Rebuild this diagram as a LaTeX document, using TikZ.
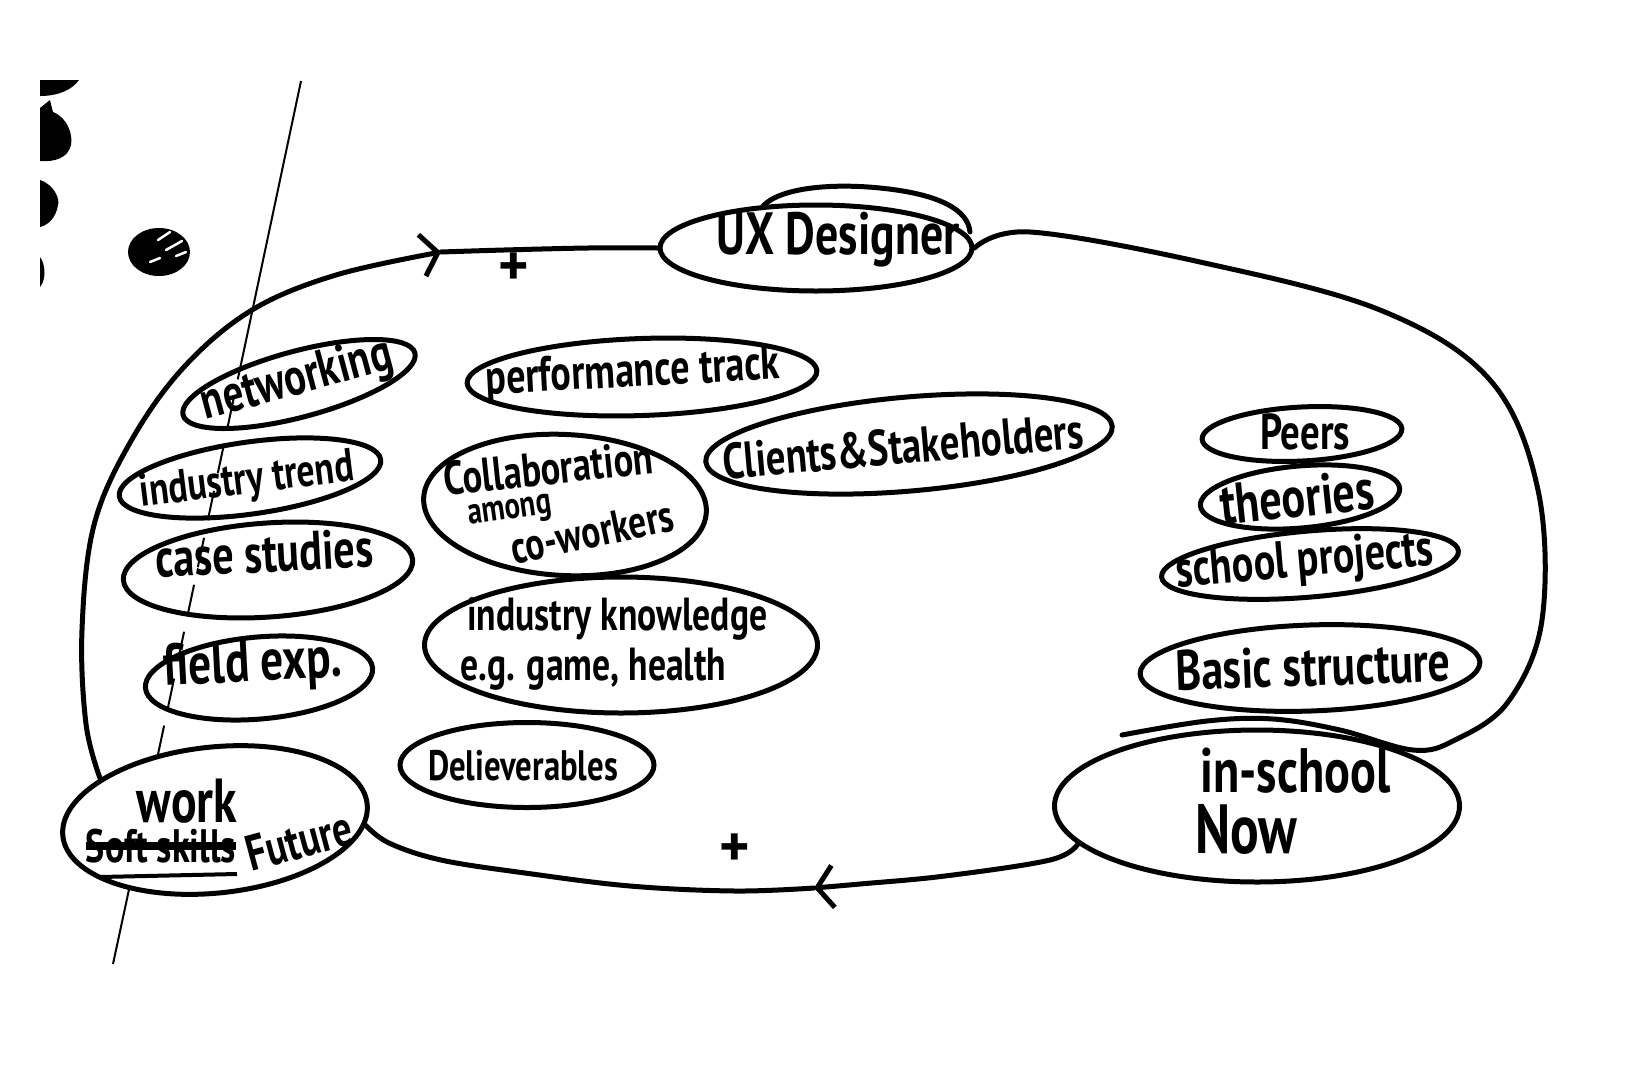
\documentclass[tikz,border=0pt]{standalone}
\usepackage{fontspec}
\setmainfont{PT Sans}
\usepackage{graphicx}
\usetikzlibrary{shapes.geometric,arrows.meta}
\newcommand\tw[2]{\resizebox{#1pt}{!}{\scalebox{1}[1.3]{#2}}}
\begin{document}
\begin{tikzpicture}[x=1pt,y=-1pt,
  bub/.style={ellipse, draw, line width=5pt, inner sep=0pt},
  txt/.style={inner sep=0pt, font=\fontsize{20}{24}\selectfont\bfseries},
  ring/.style={line width=5pt, line cap=round, line join=round},
  chev/.style={-{Straight Barb[length=16pt,width=42pt]}},
  thin/.style={line width=2pt}
]
\useasboundingbox (0,0) rectangle (1646,1074);

% scanned blobs at the left edge
\fill (40,80) -- (79,80) .. controls (72,90) and (58,96) .. (40,96) -- cycle;
\fill (40,108) -- (50,100) -- (53,112) .. controls (68,118) and (73,135) .. (71,145) .. controls (68,158) and (55,162) .. (40,161) -- cycle;
\fill (40,180) .. controls (55,185) and (60,200) .. (58,205) .. controls (56,218) and (48,225) .. (40,227) -- cycle;
\fill (40,257) .. controls (46,265) and (46,280) .. (40,287) -- cycle;
\fill (159,252) ellipse [x radius=31pt, y radius=24pt];
\draw[white, line width=2.5pt, line cap=round] (158,240) -- (170,232) (166,250) -- (182,241) (150,262) -- (160,258) (176,256) -- (186,252);

% thin vertical line
\draw[thin] (301,81) -- (244,350);
\draw[thin, dash pattern=on 30pt off 18pt] (244,350) -- (160,745);
\draw[thin] (160,745) -- (113,964);

% nodes
\node[bub, minimum width=312pt, minimum height=86pt] (ux) at (816,248) {};
\node[txt] (uxT) at (838,240) {\tw{243}{UX Designer}};
\draw[ring] (763,206) .. controls (780,188) and (830,183) .. (880,188) .. controls (940,194) and (968,210) .. (970,232);

\node[bub, minimum width=240pt, minimum height=66pt, rotate=15] (net) at (299,384) {};
\node[txt, rotate=15] (netT) at (297,381) {\tw{196}{networking}};

\node[bub, minimum width=264pt, minimum height=72pt, rotate=8] (trend) at (250,478) {};
\node[txt, rotate=7] (trendT) at (247,482) {\tw{215}{industry trend}};

\node[bub, minimum width=290pt, minimum height=94pt, rotate=4] (case) at (268,570) {};
\node[txt, rotate=3] (caseT) at (264,553) {\tw{218}{case studies}};

\node[bub, minimum width=228pt, minimum height=82pt, rotate=5] (field) at (259,678) {};
\node[txt, rotate=3] (fieldT) at (253,666) {\tw{178}{field exp.}};

\node[bub, minimum width=350pt, minimum height=77pt, rotate=2] (perf) at (642,377) {};
\node[txt, rotate=3] (perfT) at (633,374) {\tw{294}{performance track}};

\node[bub, minimum width=408pt, minimum height=94pt, rotate=5] (cli) at (909,444) {};
\node[txt, rotate=5] (cliT) at (903,446) {\tw{362}{Clients\&Stakeholders}};

\node[bub, minimum width=283pt, minimum height=141pt, rotate=-3] (col) at (565,505) {};
\node[txt, rotate=6] (colT1) at (548,468) {\tw{210}{Collaboration}};
\node[txt, rotate=8] (colT2) at (510,513) {\tw{84}{among}};
\node[txt, rotate=12] (colT3) at (592,532) {\tw{165}{co-workers}};

\node[bub, minimum width=393pt, minimum height=136pt] (know) at (621,645) {};
\node[txt, anchor=west] (knowT1) at (467,619) {\tw{300}{industry knowledge}};
\node[txt, anchor=west] (knowT2) at (460,669) {\tw{266}{e.g. game, health}};

\node[bub, minimum width=254pt, minimum height=85pt] (deli) at (527,765) {};
\node[txt] (deliT) at (523,766) {\tw{190}{Delieverables}};

\node[bub, minimum width=200pt, minimum height=54pt, rotate=3] (peers) at (1302,434) {};
\node[txt] (peersT) at (1305,432) {\tw{90}{Peers}};

\node[bub, minimum width=200pt, minimum height=62pt, rotate=5] (theo) at (1300,497) {};
\node[txt, rotate=6] (theoT) at (1297,497) {\tw{154}{theories}};

\node[bub, minimum width=298pt, minimum height=66pt, rotate=5] (sch) at (1310,564) {};
\node[txt, rotate=5] (schT) at (1305,563) {\tw{258}{school projects}};

\node[bub, minimum width=340pt, minimum height=86pt, rotate=2] (basic) at (1310,668) {};
\node[txt, rotate=2] (basicT) at (1313,666) {\tw{275}{Basic structure}};

\node[bub, minimum width=405pt, minimum height=152pt] (now) at (1257,806) {};
\node[txt, anchor=west] (inT) at (1200,771) {\tw{190}{in-school}};
\node[txt, anchor=west] (nowT) at (1195,829) {\tw{102}{Now}};

\node[bub, fill=white, minimum width=306pt, minimum height=146pt, rotate=6] (work) at (215,820) {};
\node[txt] (workT) at (187,801) {\tw{100}{work}};
\node[txt] (softT) at (161,846) {\tw{150}{Soft skills}};
\draw[line width=8pt] (softT.west) -- (softT.east);
\draw[line width=4pt] (100,877) -- (237,874);
\node[txt, rotate=15] (futT) at (299,841) {\tw{108}{Future}};

% plus signs
\node[txt] (plusT) at (514,269) {\fontsize{58}{58}\selectfont +};
\node[txt] (plusB) at (735,850) {\fontsize{58}{58}\selectfont +};

% the loop
\coordinate (arT) at (441,252);
\coordinate (arB) at (814,888);
\coordinate (topend) at (1122,735);
\draw[ring, chev] plot[smooth, tension=0.6] coordinates {(work.north west) (86,724) (82,630) (94,525) (131,441) (184,367) (252,310) (336,275) (arT)};
\draw[ring] plot[smooth] coordinates {(arT) (504,250) (588,248) (ux.west)};
\draw[ring] plot[smooth, tension=0.6] coordinates {(ux.east) (1030,232) (1200,262) (1380,310) (1490,380) (1538,490) (1542,620) (1508,702) (1455,740) (1413,750) (1340,730) (1273,719) (1207,721) (topend)};
\draw[ring, chev] plot[smooth, tension=0.6] coordinates {(now.192) (1050,860) (945,876) (860,884) (arB)};
\draw[ring] plot[smooth, tension=0.6] coordinates {(arB) (735,891) (630,886) (525,873) (441,860) (389,843) (work.-8)};
\end{tikzpicture}
\end{document}
